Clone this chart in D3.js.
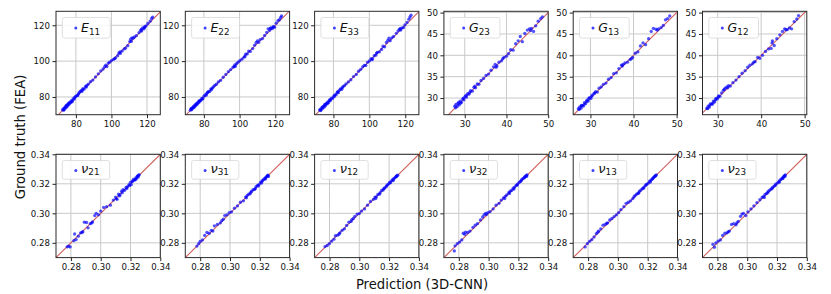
<!DOCTYPE html>
<html><head><meta charset="utf-8">
<script src="https://cdn.jsdelivr.net/npm/d3@7"></script>
<style>
body{margin:0;background:#fff;}
svg{display:block;font-family:"DejaVu Sans",sans-serif;}
</style></head><body>
<svg id="chart" width="831" height="294"></svg>
<script>
// ---------- data: [prediction, ground truth] pairs ----------
const E11 = [[72.5,72.8],[72.9,73.4],[73.3,73.0],[73.6,74.1],[74.0,73.7],[74.3,74.8],[74.7,74.3],[75.0,75.5],[75.4,75.1],[75.8,76.3],[76.2,75.9],[76.6,77.1],[77.0,76.8],[77.5,78.0],[78.0,77.7],[78.5,79.0],[79.1,78.8],[79.7,80.2],[80.4,80.8],[81.0,80.7],[81.7,82.2],[82.3,82.9],[82.9,83.5],[83.4,83.1],[84.0,84.7],[84.7,84.4],[85.4,85.9],[86.2,86.5],[87.0,87.2],[88.2,88.5],[89.5,89.4],[91.0,91.2],[92.6,92.9],[94.0,94.5],[95.3,95.6],[96.2,96.9],[96.8,97.8],[97.4,97.0],[98.2,98.9],[99.0,99.4],[100.0,100.3],[101.2,101.0],[102.3,101.8],[103.5,103.0],[104.2,104.6],[105.0,104.3],[106.0,105.6],[107.2,106.8],[108.0,107.3],[109.2,108.6],[110.3,110.9],[110.8,112.2],[111.2,111.0],[111.6,113.0],[112.2,112.8],[113.0,113.5],[114.0,114.2],[115.5,115.9],[116.4,117.2],[117.0,116.8],[117.6,118.5],[118.3,118.0],[118.8,119.2],[119.5,119.7],[120.5,121.0],[121.8,122.3],[122.6,123.8],[123.2,124.6],[73.1,72.6],[74.6,75.3],[76.0,76.6],[77.8,77.3],[79.4,79.7],[81.4,81.6],[83.7,84.0],[85.9,85.5],[101.8,101.4],[104.8,105.1],[116.9,117.9],[118.6,118.8]];
const E22 = [[72.4,72.6],[72.8,73.3],[73.2,72.9],[73.6,74.0],[74.0,73.8],[74.4,74.9],[74.8,74.4],[75.1,75.6],[75.5,75.2],[75.9,76.4],[76.3,76.0],[76.8,77.2],[77.2,76.9],[77.7,78.1],[78.2,77.9],[78.8,79.2],[79.4,79.1],[80.0,80.4],[80.7,81.1],[81.3,81.0],[82.0,82.5],[82.6,83.1],[83.2,83.0],[83.9,84.4],[84.6,84.9],[85.3,85.6],[86.1,86.4],[87.0,87.1],[88.1,88.4],[89.3,89.2],[90.8,91.0],[92.3,92.6],[93.7,94.1],[95.0,95.3],[96.3,96.6],[97.0,96.9],[97.6,97.2],[98.3,98.6],[99.1,99.4],[100.1,100.2],[101.3,101.1],[102.5,102.2],[103.4,103.9],[104.3,104.0],[105.1,105.6],[106.0,105.4],[107.3,107.0],[108.4,108.9],[109.3,110.4],[110.0,111.3],[110.7,110.5],[111.5,112.0],[112.8,112.6],[114.0,114.3],[115.2,116.0],[116.0,118.0],[116.8,117.2],[117.5,118.6],[118.3,118.1],[119.0,119.3],[119.6,118.9],[120.5,121.2],[121.5,122.6],[122.3,123.1],[123.0,124.4],[123.5,125.2],[73.0,73.6],[74.2,74.4],[75.7,75.9],[77.4,77.6],[79.0,78.7],[81.7,82.0],[84.2,84.0],[97.3,97.9],[103.0,102.6],[117.2,118.3],[118.7,119.0]];
const E33 = [[72.3,72.7],[72.7,73.2],[73.1,72.8],[73.5,74.0],[73.9,73.6],[74.3,74.7],[74.7,74.3],[75.1,75.5],[75.5,75.1],[75.9,76.3],[76.4,76.1],[76.8,77.2],[77.3,76.9],[77.8,78.2],[78.3,78.0],[78.9,79.3],[79.5,79.2],[80.2,80.5],[80.8,81.2],[81.5,81.3],[82.1,82.6],[82.7,82.4],[83.3,83.8],[83.9,84.5],[84.6,84.3],[85.3,85.8],[86.1,86.3],[87.0,87.3],[88.3,88.4],[89.7,89.6],[91.2,91.4],[92.7,92.6],[94.0,94.4],[95.2,95.4],[96.3,96.8],[97.2,97.6],[98.0,97.6],[99.0,99.3],[100.0,100.1],[101.0,101.4],[101.8,101.2],[102.7,103.0],[103.6,103.3],[104.5,104.9],[105.6,105.2],[106.8,106.5],[107.6,108.3],[108.5,108.0],[109.5,110.4],[110.3,111.6],[110.9,112.8],[111.6,111.4],[112.5,113.0],[113.5,113.8],[115.0,115.5],[116.0,116.9],[116.8,117.8],[117.5,117.3],[118.2,118.6],[119.0,118.7],[119.8,120.2],[121.0,121.6],[122.0,123.4],[122.6,124.6],[123.2,125.6],[72.9,72.4],[74.1,74.5],[75.3,75.8],[76.6,76.5],[78.1,78.5],[80.5,80.2],[82.4,82.9],[84.9,85.1],[101.4,100.8],[104.0,104.5],[117.2,118.1]];
const G23 = [[27.6,28.1],[27.9,28.5],[28.2,28.0],[28.4,28.7],[28.7,28.4],[28.9,29.3],[29.2,29.0],[29.5,29.8],[29.8,29.6],[30.1,30.4],[30.4,30.2],[30.7,31.0],[31.0,30.9],[31.4,31.7],[31.8,31.6],[32.2,32.5],[32.6,32.4],[33.0,33.3],[33.4,33.2],[33.9,34.1],[34.5,34.6],[35.1,35.3],[35.7,35.6],[36.3,36.5],[36.9,37.3],[37.3,37.9],[37.7,37.5],[38.2,38.4],[38.8,38.7],[39.4,39.5],[40.0,39.8],[40.5,40.4],[41.0,41.3],[41.6,41.2],[42.2,42.7],[42.8,43.4],[43.3,44.4],[43.8,43.2],[44.4,45.1],[45.0,45.9],[45.5,46.2],[46.0,46.3],[46.5,45.6],[47.0,46.9],[47.6,48.0],[48.2,48.6],[48.6,49.0],[27.8,27.7],[28.5,29.0],[29.0,28.8],[29.7,30.0],[30.3,30.6],[31.2,31.3],[32.4,32.8],[37.5,37.2],[39.1,39.2],[45.8,45.8]];
const G13 = [[27.2,27.5],[27.5,27.9],[27.8,27.6],[28.0,28.3],[28.3,28.1],[28.6,28.9],[28.9,28.7],[29.2,29.5],[29.5,29.3],[29.8,30.1],[30.1,29.9],[30.4,30.7],[30.8,31.0],[31.2,31.5],[31.6,31.4],[32.0,32.3],[32.5,32.6],[33.0,33.2],[33.6,33.5],[34.2,34.4],[34.8,34.8],[35.4,35.7],[36.0,35.9],[36.6,36.9],[37.2,37.7],[37.6,37.9],[38.0,38.2],[38.6,38.4],[39.2,39.0],[39.8,39.5],[40.4,40.5],[41.0,40.8],[41.6,42.2],[42.2,42.9],[42.8,42.5],[43.5,43.9],[44.1,45.6],[44.6,46.3],[45.2,46.1],[45.8,46.2],[46.4,46.5],[46.9,47.0],[47.4,48.3],[47.9,48.6],[48.4,49.2],[27.4,27.3],[27.9,28.2],[28.5,28.4],[29.1,29.2],[29.6,29.9],[30.3,30.4],[31.0,31.2],[37.4,37.5],[39.5,39.2],[45.5,45.9]];
const G12 = [[27.5,27.6],[27.8,28.1],[28.1,27.9],[28.4,28.7],[28.7,28.5],[29.0,29.3],[29.3,29.1],[29.6,29.9],[29.9,29.8],[30.2,30.5],[30.5,30.4],[30.9,31.2],[31.3,31.8],[31.7,32.3],[32.1,32.6],[32.5,32.9],[32.9,32.8],[33.5,33.6],[34.2,34.2],[34.9,35.0],[35.6,35.8],[36.3,36.4],[36.9,37.2],[37.4,37.7],[38.0,38.0],[38.6,38.5],[39.2,39.5],[39.7,39.3],[40.3,40.0],[41.0,40.9],[41.7,41.5],[42.3,41.6],[42.6,43.4],[43.0,42.3],[43.6,43.9],[44.3,44.8],[44.9,45.6],[45.4,46.2],[46.0,46.0],[46.5,46.4],[47.0,46.2],[47.6,47.9],[48.2,48.5],[48.6,49.3],[27.7,27.5],[28.2,28.4],[28.9,28.8],[29.5,29.6],[30.1,30.2],[31.5,32.0],[32.3,32.4],[38.3,38.4],[45.7,46.0],[42.5,42.9]];
const nu21 = [[0.2775,0.2773],[0.2785,0.2778],[0.2795,0.2772],[0.2820,0.2815],[0.2825,0.2860],[0.2835,0.2822],[0.2850,0.2845],[0.2865,0.2868],[0.2880,0.2876],[0.2890,0.2940],[0.2905,0.2938],[0.2915,0.2902],[0.2930,0.2930],[0.2945,0.2942],[0.2960,0.2985],[0.2970,0.3000],[0.2985,0.2990],[0.3000,0.3015],[0.3020,0.3040],[0.3040,0.3045],[0.3065,0.3055],[0.3085,0.3090],[0.3100,0.3110],[0.3110,0.3095],[0.3120,0.3130],[0.3130,0.3125],[0.3140,0.3150],[0.3150,0.3160],[0.3160,0.3155],[0.3170,0.3175],[0.3180,0.3180],[0.3190,0.3195],[0.3200,0.3210],[0.3205,0.3195],[0.3215,0.3220],[0.3220,0.3230],[0.3228,0.3225],[0.3235,0.3240],[0.3240,0.3235],[0.3245,0.3250],[0.3250,0.3245],[0.3255,0.3255],[0.3258,0.3262],[0.3105,0.3100],[0.3125,0.3118],[0.3145,0.3140],[0.3175,0.3168],[0.3195,0.3188],[0.3212,0.3215],[0.3232,0.3230],[0.3248,0.3254],[0.2875,0.2870],[0.2940,0.2935]];
const nu31 = [[0.2778,0.2778],[0.2790,0.2795],[0.2800,0.2810],[0.2815,0.2820],[0.2830,0.2850],[0.2845,0.2870],[0.2860,0.2865],[0.2875,0.2885],[0.2895,0.2915],[0.2915,0.2925],[0.2935,0.2935],[0.2955,0.2960],[0.2965,0.2985],[0.2980,0.2990],[0.2995,0.3005],[0.3010,0.3010],[0.3030,0.3035],[0.3050,0.3050],[0.3070,0.3075],[0.3090,0.3085],[0.3105,0.3110],[0.3115,0.3120],[0.3125,0.3130],[0.3135,0.3132],[0.3145,0.3150],[0.3155,0.3160],[0.3165,0.3162],[0.3175,0.3180],[0.3185,0.3190],[0.3195,0.3195],[0.3205,0.3210],[0.3212,0.3205],[0.3220,0.3225],[0.3228,0.3232],[0.3235,0.3238],[0.3242,0.3245],[0.3248,0.3250],[0.3255,0.3258],[0.3258,0.3250],[0.3110,0.3105],[0.3140,0.3142],[0.3170,0.3168],[0.3190,0.3185],[0.3215,0.3218],[0.3238,0.3232],[0.3252,0.3255],[0.2885,0.2880],[0.2945,0.2950]];
const nu12 = [[0.2770,0.2775],[0.2785,0.2782],[0.2800,0.2795],[0.2815,0.2812],[0.2830,0.2825],[0.2840,0.2848],[0.2855,0.2852],[0.2870,0.2868],[0.2885,0.2885],[0.2900,0.2895],[0.2915,0.2918],[0.2930,0.2940],[0.2945,0.2945],[0.2960,0.2965],[0.2970,0.2980],[0.2985,0.2995],[0.3000,0.2998],[0.3015,0.3015],[0.3035,0.3030],[0.3055,0.3055],[0.3075,0.3080],[0.3095,0.3095],[0.3105,0.3110],[0.3115,0.3112],[0.3125,0.3128],[0.3140,0.3140],[0.3150,0.3155],[0.3160,0.3158],[0.3170,0.3172],[0.3180,0.3180],[0.3190,0.3195],[0.3200,0.3202],[0.3210,0.3208],[0.3218,0.3222],[0.3225,0.3230],[0.3232,0.3235],[0.3240,0.3242],[0.3246,0.3248],[0.3252,0.3255],[0.3258,0.3258],[0.3110,0.3100],[0.3135,0.3130],[0.3165,0.3168],[0.3185,0.3188],[0.3205,0.3212],[0.3228,0.3222],[0.3250,0.3250],[0.2865,0.2860],[0.2950,0.2958]];
const nu32 = [[0.2770,0.2745],[0.2775,0.2780],[0.2790,0.2795],[0.2805,0.2805],[0.2820,0.2820],[0.2830,0.2865],[0.2845,0.2872],[0.2860,0.2870],[0.2875,0.2880],[0.2895,0.2905],[0.2910,0.2920],[0.2925,0.2930],[0.2945,0.2955],[0.2960,0.2975],[0.2970,0.2990],[0.2980,0.3000],[0.2995,0.3005],[0.3010,0.3012],[0.3030,0.3030],[0.3050,0.3055],[0.3070,0.3068],[0.3085,0.3090],[0.3100,0.3105],[0.3112,0.3115],[0.3122,0.3125],[0.3135,0.3140],[0.3145,0.3150],[0.3155,0.3155],[0.3165,0.3170],[0.3175,0.3178],[0.3185,0.3190],[0.3195,0.3198],[0.3205,0.3210],[0.3213,0.3215],[0.3222,0.3228],[0.3230,0.3235],[0.3238,0.3240],[0.3245,0.3250],[0.3252,0.3255],[0.3258,0.3260],[0.3108,0.3100],[0.3140,0.3135],[0.3170,0.3165],[0.3192,0.3192],[0.3218,0.3220],[0.3242,0.3244],[0.3255,0.3250],[0.2840,0.2858],[0.2985,0.2992]];
const nu13 = [[0.2780,0.2772],[0.2795,0.2795],[0.2810,0.2810],[0.2825,0.2822],[0.2840,0.2840],[0.2855,0.2862],[0.2870,0.2880],[0.2885,0.2895],[0.2900,0.2920],[0.2915,0.2925],[0.2930,0.2935],[0.2945,0.2955],[0.2960,0.2965],[0.2975,0.2978],[0.2990,0.2990],[0.3005,0.3005],[0.3020,0.3025],[0.3040,0.3045],[0.3055,0.3068],[0.3070,0.3075],[0.3085,0.3085],[0.3100,0.3100],[0.3115,0.3120],[0.3125,0.3130],[0.3135,0.3135],[0.3145,0.3150],[0.3155,0.3158],[0.3165,0.3168],[0.3175,0.3178],[0.3185,0.3188],[0.3195,0.3198],[0.3205,0.3205],[0.3213,0.3218],[0.3222,0.3225],[0.3230,0.3232],[0.3238,0.3242],[0.3245,0.3248],[0.3252,0.3255],[0.3258,0.3260],[0.3108,0.3112],[0.3140,0.3138],[0.3172,0.3170],[0.3190,0.3195],[0.3218,0.3212],[0.3235,0.3236],[0.3250,0.3252],[0.2865,0.2872],[0.2925,0.2932]];
const nu23 = [[0.2770,0.2790],[0.2780,0.2770],[0.2790,0.2800],[0.2805,0.2812],[0.2820,0.2820],[0.2835,0.2850],[0.2850,0.2865],[0.2865,0.2868],[0.2880,0.2880],[0.2895,0.2925],[0.2910,0.2930],[0.2925,0.2922],[0.2940,0.2945],[0.2955,0.2980],[0.2965,0.2995],[0.2975,0.3000],[0.2990,0.2985],[0.3005,0.3010],[0.3025,0.3030],[0.3045,0.3050],[0.3065,0.3072],[0.3085,0.3092],[0.3100,0.3108],[0.3110,0.3115],[0.3120,0.3128],[0.3130,0.3135],[0.3142,0.3150],[0.3152,0.3158],[0.3162,0.3165],[0.3172,0.3178],[0.3182,0.3185],[0.3192,0.3198],[0.3202,0.3205],[0.3212,0.3215],[0.3220,0.3225],[0.3228,0.3232],[0.3236,0.3240],[0.3244,0.3248],[0.3250,0.3255],[0.3256,0.3260],[0.3115,0.3108],[0.3138,0.3140],[0.3168,0.3170],[0.3188,0.3190],[0.3215,0.3210],[0.3240,0.3236],[0.3253,0.3250],[0.2872,0.2875],[0.2930,0.2935]];

const labelsTop = [["E","11"],["E","22"],["E","33"],["G","23"],["G","13"],["G","12"]];
const labelsBottom = [["ν","21"],["ν","31"],["ν","12"],["ν","32"],["ν","13"],["ν","23"]];
const dataTop = [E11, E22, E33, G23, G13, G12];
const dataBottom = [nu21, nu31, nu12, nu32, nu13, nu23];

const xDomTop = [[68.8,127.5],[69.6,128.0],[69.5,127.6],[25.0,50.0],[26.0,50.2],[26.5,50.5]];
const yDomTop = [[70.1,127.8],[70.1,127.8],[70.1,127.8],[26.1,50.3],[26.1,50.3],[26.1,50.3]];
const nuDom = [0.27, 0.34];
const ticksE = [80, 100, 120];
const ticksGx = [30, 40, 50];
const ticksGy = [30, 35, 40, 45, 50];
const ticksNu = [0.28, 0.30, 0.32, 0.34];

const xLabel = "Prediction (3D-CNN)";
const yLabel = "Ground truth (FEA)";

// ---------- drawing ----------
const svg = d3.select("#chart");
const PW = 104.3;
const colX = i => 56 + i * 129.3;
const rows = [{y: 11.3, h: 103.4}, {y: 154.3, h: 103.3}];
const PT_R = 1.65, PT_OP = 0.68, PT_COL = "#0000ff";

function panel(i, row, data, xd, yd, xt, yt, fmt, lab) {
  const x0 = colX(i), y0 = rows[row].y, h = rows[row].h;
  const x = d3.scaleLinear().domain(xd).range([x0, x0 + PW]);
  const y = d3.scaleLinear().domain(yd).range([y0 + h, y0]);
  const g = svg.append("g");
  const clipId = "clip" + row + "_" + i;
  g.append("clipPath").attr("id", clipId).append("rect")
    .attr("x", x0).attr("y", y0).attr("width", PW).attr("height", h);
  // grid
  g.append("g").selectAll("line").data(xt).join("line")
    .attr("x1", d => x(d)).attr("x2", d => x(d)).attr("y1", y0).attr("y2", y0 + h)
    .attr("stroke", "#c9c9c9").attr("stroke-width", 1);
  g.append("g").selectAll("line").data(yt).join("line")
    .attr("y1", d => y(d)).attr("y2", d => y(d)).attr("x1", x0).attr("x2", x0 + PW)
    .attr("stroke", "#c9c9c9").attr("stroke-width", 1);
  const plot = g.append("g").attr("clip-path", `url(#${clipId})`);
  const lo = Math.min(xd[0], yd[0]) - 5, hi = Math.max(xd[1], yd[1]) + 5;
  // diagonal
  plot.append("line").attr("x1", x(lo)).attr("y1", y(lo)).attr("x2", x(hi)).attr("y2", y(hi))
    .attr("stroke", "#d0605e").attr("stroke-width", 1.1);
  // points
  plot.append("g").selectAll("circle").data(data).join("circle")
    .attr("cx", d => x(d[0])).attr("cy", d => y(d[1])).attr("r", PT_R)
    .attr("fill", PT_COL).attr("fill-opacity", PT_OP);
  // axes
  const ax = g.append("g").attr("transform", `translate(0,${y0 + h})`)
    .call(d3.axisBottom(x).tickValues(xt).tickFormat(fmt).tickSizeOuter(0).tickSize(3.5).tickPadding(2.5));
  const ay = g.append("g").attr("transform", `translate(${x0},0)`)
    .call(d3.axisLeft(y).tickValues(yt).tickFormat(fmt).tickSizeOuter(0).tickSize(3.5).tickPadding(2.5));
  [ax, ay].forEach(a => {
    a.select(".domain").remove();
    a.selectAll("text").attr("font-size", 8.6).attr("font-family", "DejaVu Sans").attr("fill", "#111");
    a.selectAll("line").attr("stroke", "#222");
  });
  // frame
  g.append("rect").attr("x", x0).attr("y", y0).attr("width", PW).attr("height", h)
    .attr("fill", "none").attr("stroke", "#2a2a2a").attr("stroke-width", 1);
  // legend
  const bx = x0 + 6.3, by = y0 + 6.2, bh = row === 0 ? 20.6 : 18.7;
  const leg = g.append("g");
  const box = leg.append("rect").attr("x", bx).attr("y", by).attr("height", bh).attr("rx", 2)
    .attr("fill", "#fff").attr("fill-opacity", 0.85).attr("stroke", "#d8d8d8").attr("stroke-width", 0.8);
  leg.append("circle").attr("cx", bx + 13.5).attr("cy", by + (row === 0 ? 10.4 : 10)).attr("r", 1.5)
    .attr("fill", PT_COL).attr("fill-opacity", 0.75);
  const t = leg.append("text").attr("x", bx + 18.8).attr("y", by + (row === 0 ? 14.2 : 12.2))
    .attr("font-family", "DejaVu Sans").attr("fill", "#111");
  t.append("tspan").attr("font-style", "italic").attr("font-size", row === 0 ? 12.5 : 13).text(lab[0]);
  t.append("tspan").attr("font-size", 8.8).attr("dy", row === 0 ? 3 : 2.6).text(lab[1]);
  const tw = t.node().getComputedTextLength();
  box.attr("width", tw + 18.8 + 10);
}

const fmtInt = d3.format("d"), fmtNu = d3.format(".2f");
for (let i = 0; i < 6; i++) {
  const isE = i < 3;
  panel(i, 0, dataTop[i], xDomTop[i], yDomTop[i], isE ? ticksE : ticksGx, isE ? ticksE : ticksGy, fmtInt, labelsTop[i]);
  panel(i, 1, dataBottom[i], nuDom, nuDom, ticksNu, ticksNu, fmtNu, labelsBottom[i]);
}

svg.append("text").attr("x", 422).attr("y", 289).attr("text-anchor", "middle")
  .attr("font-size", 13.2).attr("fill", "#111").text(xLabel);
svg.append("text").attr("transform", "translate(24.5,137) rotate(-90)").attr("text-anchor", "middle")
  .attr("font-size", 13.2).attr("fill", "#111").text(yLabel);
</script>
</body></html>
